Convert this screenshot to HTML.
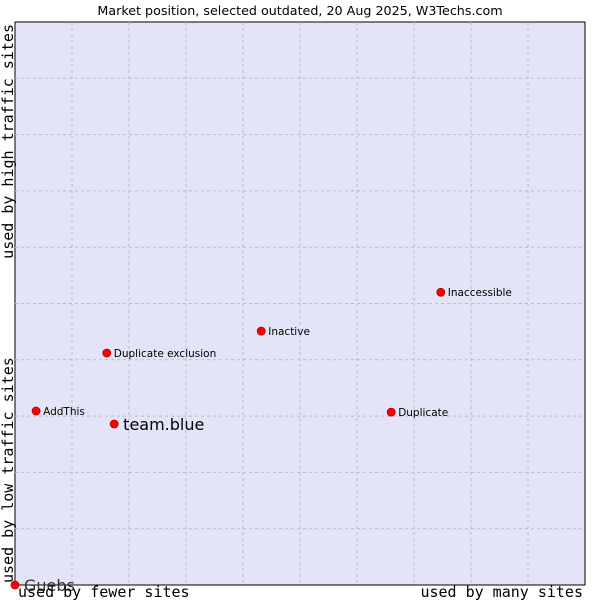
<!DOCTYPE html>
<html><head><meta charset="utf-8"><style>body{margin:0;background:#fff}svg{display:block}</style></head>
<body>
<svg id="chart" width="600" height="600" xmlns="http://www.w3.org/2000/svg">
<text x="300" y="15" text-anchor="middle" font-family="DejaVu Sans, Liberation Sans, sans-serif" font-size="12.7">Market position, selected outdated, 20 Aug 2025, W3Techs.com</text>
<rect x="15" y="22" width="570" height="563" fill="#e4e4f8" stroke="#000" stroke-width="1"/>
<g id="grid"></g>
<g id="pts"></g>
<text x="18" y="597" font-family="DejaVu Sans Mono, Liberation Mono, monospace" font-size="15">used by fewer sites</text>
<text x="583" y="597" text-anchor="end" font-family="DejaVu Sans Mono, Liberation Mono, monospace" font-size="15">used by many sites</text>
<text transform="translate(13,583) rotate(-90)" font-family="DejaVu Sans Mono, Liberation Mono, monospace" font-size="15">used by low traffic sites</text>
<text transform="translate(13,24) rotate(-90)" text-anchor="end" font-family="DejaVu Sans Mono, Liberation Mono, monospace" font-size="15">used by high traffic sites</text>
</svg>
<script>
const names = ["Guebs","AddThis","team.blue","Duplicate exclusion","Inactive","Inaccessible","Duplicate"];
const xVals = [0, 3.7, 17.4, 16.1, 43.2, 74.7, 66.0];
const yVals = [0, 30.9, 28.6, 41.2, 45.1, 52.0, 30.7];
const big = [true,false,true,false,false,false,false];
const NS="http://www.w3.org/2000/svg";
const L=15,T=22,W=570,H=563;
const xs=v=>L+v/100*W, ys=v=>T+H-v/100*H;
const g=document.getElementById('grid');
for(let i=1;i<10;i++){
  const a=document.createElementNS(NS,'line');
  
  
  a.setAttribute('x1',xs(i*10));a.setAttribute('x2',xs(i*10));a.setAttribute('y1',T);a.setAttribute('y2',T+H);
  a.setAttribute('stroke','#bbb');a.setAttribute('stroke-dasharray','3,3');g.appendChild(a);
  const b=document.createElementNS(NS,'line');
  
  
  b.setAttribute('x1',L);b.setAttribute('x2',L+W);b.setAttribute('y1',ys(i*10));b.setAttribute('y2',ys(i*10));
  b.setAttribute('stroke','#bbb');b.setAttribute('stroke-dasharray','3,3');g.appendChild(b);
}
const p=document.getElementById('pts');
names.forEach((n,i)=>{
  const cx=xs(xVals[i]),cy=ys(yVals[i]);
  const c=document.createElementNS(NS,'circle');
  
  
  c.setAttribute('cx',cx);c.setAttribute('cy',cy);c.setAttribute('r',4);
  c.setAttribute('fill','#f00');c.setAttribute('stroke','#a00');c.setAttribute('stroke-width','0.8');p.appendChild(c);
  const t=document.createElementNS(NS,'text');
  
  
  t.setAttribute('x',cx+(big[i]?9:7));t.setAttribute('y',cy+(big[i]?6:4));
  t.setAttribute('font-family','DejaVu Sans, Liberation Sans, sans-serif');
  t.setAttribute('font-size',big[i]?16:10.5);
  if(i===0)t.setAttribute('fill','#333');
  t.textContent=n;p.appendChild(t);
});
</script>
</body></html>
